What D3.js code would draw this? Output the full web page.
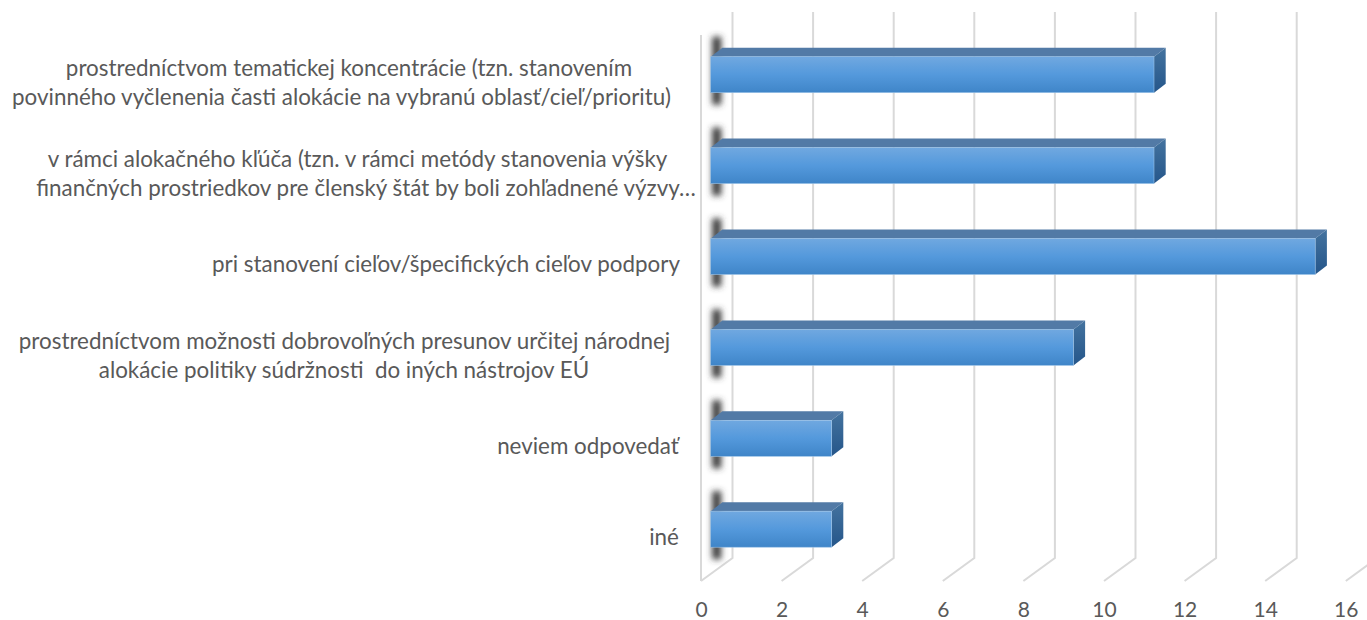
<!DOCTYPE html>
<html>
<head>
<meta charset="utf-8">
<script src="https://cdn.jsdelivr.net/npm/d3@7"></script>
<style>
  html, body { margin: 0; padding: 0; background: #fff; overflow: hidden; }
  text { font-family: Lato, sans-serif; fill: #595959; }
</style>
</head>
<body>
<div id="chart"></div>
<script>
const categories = [
  ["prostredníctvom tematickej koncentrácie (tzn. stanovením", "povinného vyčlenenia časti alokácie na vybranú oblasť/cieľ/prioritu)"],
  ["v rámci alokačného kľúča (tzn. v rámci metódy stanovenia výšky", "finančných prostriedkov pre členský štát by boli zohľadnené výzvy…"],
  ["pri stanovení cieľov/špecifických cieľov podpory"],
  ["prostredníctvom možnosti dobrovoľných presunov určitej národnej", "alokácie politiky súdržnosti  do iných nástrojov EÚ"],
  ["neviem odpovedať"],
  ["iné"]
];
const values = [11, 11, 15, 9, 3, 3];
const xTicks = [0, 2, 4, 6, 8, 10, 12, 14, 16];

const width = 1367;
const height = 620;
const floorY = 581;
const wallTop = 12;
// depth of the floor and of the bars
const floorDx = 31.5, floorDy = 23;
const barDx = 11.7, barDy = 9;
const barOffset = 9.7;
// label lines are not centred on one common x in the original
const lineCentres = [[349, 341.5], [357.5, 366], [446], [344.5, 344], [588], [664]];

const svg = d3.select("#chart").append("svg")
  .attr("width", width)
  .attr("height", height);

const defs = svg.append("defs");

const front = defs.append("linearGradient").attr("id", "front")
  .attr("x1", 0).attr("y1", 0).attr("x2", 0).attr("y2", 1);
front.append("stop").attr("offset", "0%").attr("stop-color", "#70a8e0");
front.append("stop").attr("offset", "50%").attr("stop-color", "#5499dc");
front.append("stop").attr("offset", "100%").attr("stop-color", "#3f85c8");

const side = defs.append("linearGradient").attr("id", "side")
  .attr("x1", 0).attr("y1", 0).attr("x2", 0).attr("y2", 1);
side.append("stop").attr("offset", "0%").attr("stop-color", "#44739f");
side.append("stop").attr("offset", "100%").attr("stop-color", "#25568a");

defs.append("filter").attr("id", "blur")
  .attr("x", "-150%").attr("y", "-30%").attr("width", "400%").attr("height", "160%")
  .append("feGaussianBlur").attr("stdDeviation", 3);

// Scales
const xScale = d3.scaleLinear().domain([0, 16]).range([701, 1345.8]);
const yScale = d3.scaleBand()
  .domain(d3.range(categories.length))
  .range([29.25, 574.65])
  .paddingInner(0.604)
  .paddingOuter(0.302);

// Grid
const grid = svg.append("g").attr("id", "grid")
  .attr("fill", "none")
  .attr("stroke", "#d9d9d9")
  .attr("stroke-width", 2);

grid.selectAll("path.wall")
  .data(xTicks.slice(0, -1))
  .join("path")
  .attr("class", "wall")
  .attr("d", (d) => {
    const x = xScale(d) + floorDx;
    return `M${x},${wallTop}V${floorY - floorDy}L${xScale(d)},${floorY}`;
  });

grid.append("path")
  .attr("d", `M${xScale(16) + floorDx},${floorY - floorDy}L${xScale(16)},${floorY}`);

grid.append("line")
  .attr("x1", xScale(0)).attr("x2", xScale(0))
  .attr("y1", 35).attr("y2", floorY);

// Bars
const bars = svg.append("g").attr("id", "bars")
  .selectAll("g")
  .data(values)
  .join("g");

const x0 = xScale(0) + barOffset;
const barEnd = (d) => xScale(d) + barOffset;

// blurred shadow behind the left end of each bar
bars.append("rect")
  .attr("x", x0 + 1.5)
  .attr("y", (d, i) => yScale(i) - 20)
  .attr("width", 9)
  .attr("height", yScale.bandwidth() + 32)
  .attr("fill", "#3a3a3a")
  .attr("filter", "url(#blur)");

bars.append("path")
  .attr("fill", "#527aa6")
  .attr("d", (d, i) => {
    const y = yScale(i);
    return `M${x0},${y}L${x0 + barDx},${y - barDy}H${barEnd(d) + barDx}L${barEnd(d)},${y}Z`;
  });

bars.append("path")
  .attr("fill", "url(#side)")
  .attr("d", (d, i) => {
    const y = yScale(i);
    const h = yScale.bandwidth();
    return `M${barEnd(d)},${y}L${barEnd(d) + barDx},${y - barDy}V${y + h - barDy}L${barEnd(d)},${y + h}Z`;
  });

bars.append("rect")
  .attr("x", x0)
  .attr("y", (d, i) => yScale(i))
  .attr("width", (d) => barEnd(d) - x0)
  .attr("height", yScale.bandwidth())
  .attr("fill", "url(#front)")
  .attr("stroke", "#9cc3e8")
  .attr("stroke-width", 0.6);

// Category labels
const labels = svg.append("g").attr("id", "labels")
  .attr("font-size", 22.4)
  .attr("text-anchor", "middle")
  .selectAll("text")
  .data(categories)
  .join("text")
  .attr("xml:space", "preserve")
  .style("white-space", "pre")
  .attr("y", (d, i) => {
    const mid = yScale(i) + yScale.bandwidth() / 2;
    return categories[i].length === 1 ? mid + 15.5 : mid + 1.5;
  });

labels.selectAll("tspan")
  .data((d, i) => d.map((line, j) => ({ line, j, cx: lineCentres[i][j] })))
  .join("tspan")
  .attr("x", (d) => d.cx)
  .attr("dy", (d) => (d.j === 0 ? 0 : 29))
  .text((d) => d.line);

// X axis
const xAxis = svg.append("g").attr("id", "x-axis")
  .attr("transform", `translate(0,${floorY})`)
  .call(d3.axisBottom(xScale).tickValues(xTicks).tickSize(0).tickPadding(21))
  .call((g) => g.select(".domain").remove());

xAxis.selectAll("text")
  .style("font-size", "21px")
  .style("fill", "#595959")
  .style("font-family", "Lato, sans-serif");
</script>
</body>
</html>
